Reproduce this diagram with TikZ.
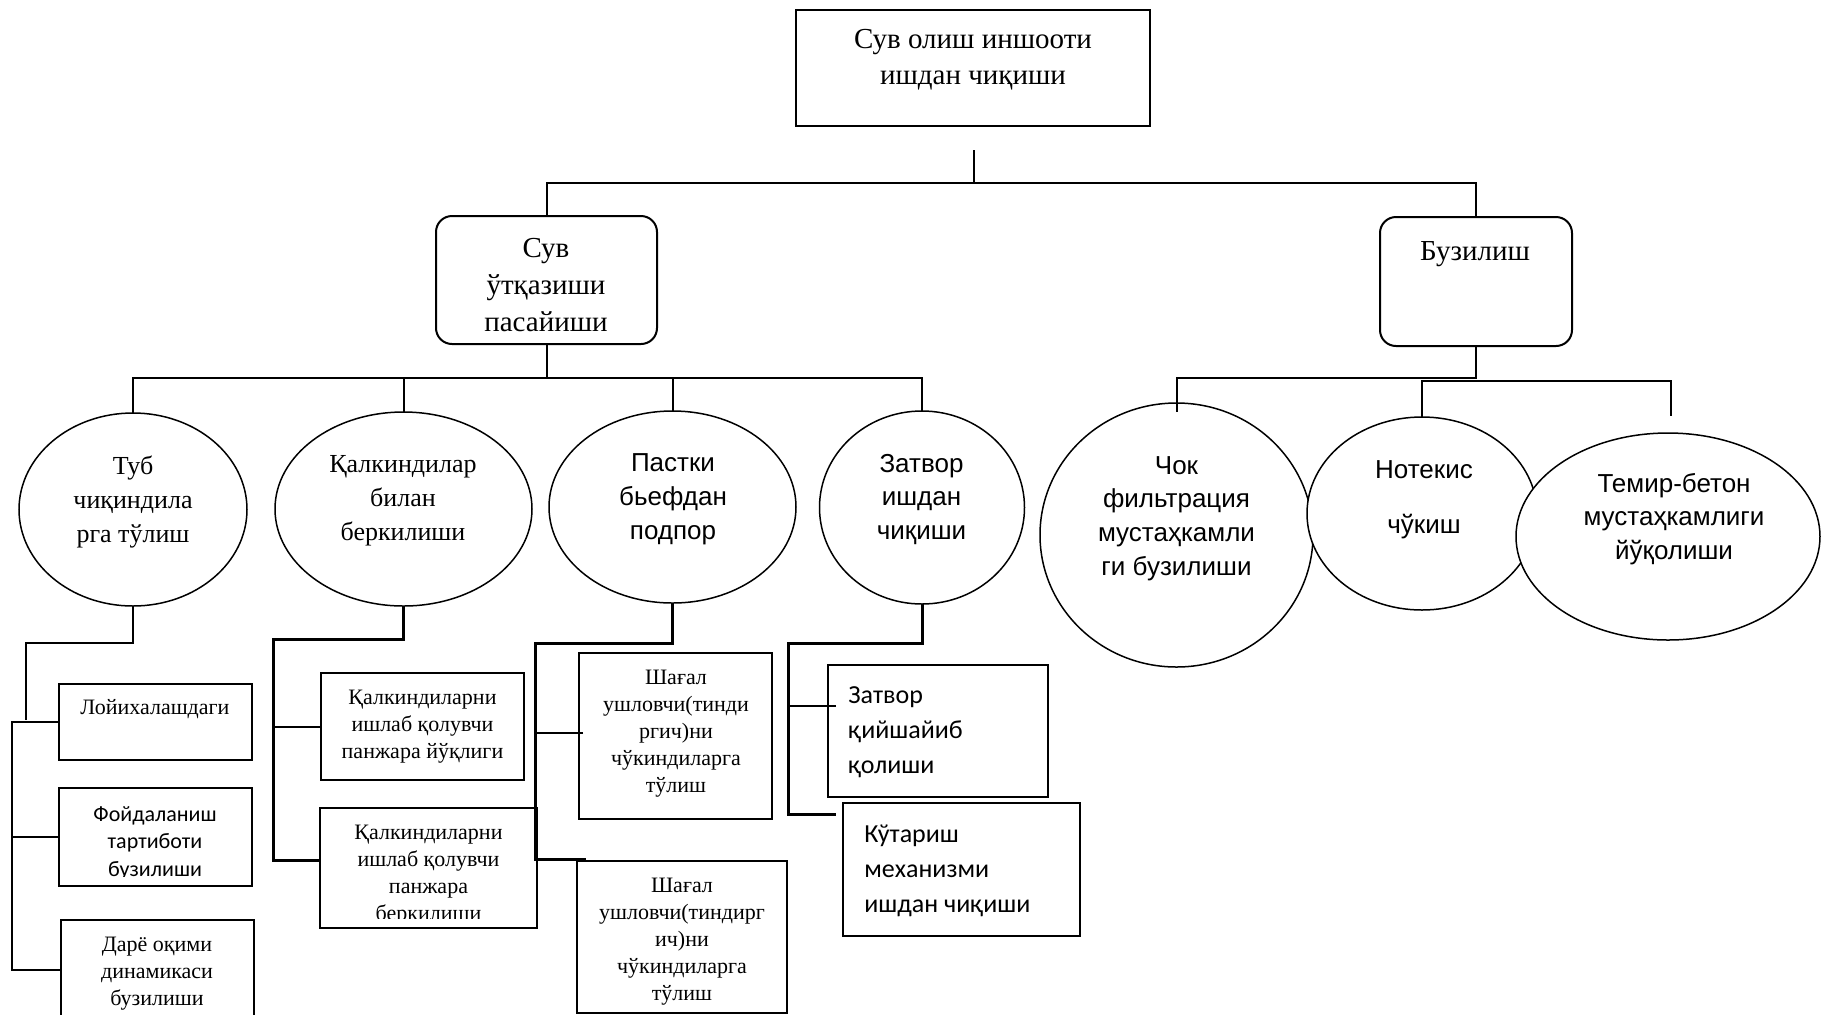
\documentclass[tikz,border=0pt]{standalone}
\usepackage{fontspec}
\setmainfont{Liberation Serif}
\newfontfamily\arialf{Liberation Sans}
\newfontfamily\calibf{Carlito}
\usetikzlibrary{shapes.geometric}
\begin{document}
\begin{tikzpicture}[x=0.5pt,y=-0.5pt,
  bx/.style={draw, line width=1pt, rectangle, inner sep=0pt, outer sep=0pt},
  ell/.style={draw, ellipse, line width=0.75pt, inner sep=0pt, outer sep=0pt},
  conn/.style={line width=1pt},
  thk/.style={line width=1.5pt},
  tbig/.style={font={\fontsize{14.5pt}{18pt}\selectfont}, align=center, inner sep=0pt},
  tell/.style={font={\fontsize{13pt}{17pt}\selectfont}, align=center, inner sep=0pt},
  tsans/.style={font={\arialf\fontsize{13pt}{16.9pt}\selectfont}, align=center, inner sep=0pt},
  tsmall/.style={font={\fontsize{11pt}{13.5pt}\selectfont}, align=center, inner sep=0pt},
  tcal/.style={font={\calibf\fontsize{11pt}{13.75pt}\selectfont}, align=center, inner sep=0pt},
  tcalb/.style={font={\calibf\fontsize{13pt}{17.5pt}\selectfont}, align=left, inner sep=0pt, anchor=west},
]
\useasboundingbox (0,0) rectangle (1822,1014);
\fill[white] (0,0) rectangle (1822,1014);
\clip (0,0) rectangle (1822,1014);

% top level
\node[bx, minimum width=177pt, minimum height=58pt] (root) at (973,68) {};
\node[tbig] (root-t) at (973,60) {Сув олиш иншооти\\ишдан чиқиши};

\node[bx, rounded corners=8pt, minimum width=110.5pt, minimum height=64pt] (sub1) at (546.5,280) {};
\node[tbig, font={\fontsize{14.5pt}{18.5pt}\selectfont}] (sub1-t) at (546,285) {Сув\\ўтқазиши\\пасайиши};

\node[bx, rounded corners=8pt, minimum width=96pt, minimum height=64.5pt] (sub2) at (1476,281.5) {};
\node[tbig] (sub2-t) at (1475,254) {Бузилиш};

% ellipses, left group
\node[ell, minimum width=114pt, minimum height=96.5pt] (tub) at (133,509.5) {};
\node[tell] (tub-t) at (133,501.5) {Туб\\чиқиндила\\рга тўлиш};

\node[ell, minimum width=128.5pt, minimum height=97pt] (qalk) at (403.5,509) {};
\node[tell] (qalk-t) at (403,501) {Қалкиндилар\\билан\\беркилиши};

\node[ell, minimum width=123.5pt, minimum height=96pt] (past) at (672.5,507) {};
\node[tsans] (past-t) at (673,499.5) {Пастки\\бьефдан\\подпор};

\node[ell, minimum width=102.5pt, minimum height=96.5pt] (zat) at (922,507.5) {};
\node[tsans] (zat-t) at (921.5,499.5) {Затвор\\ишдан\\чиқиши};

% ellipses, right group
\node[ell, minimum width=136.5pt, minimum height=132pt] (chok) at (1176.5,535) {};
\node[tsans] (chok-t) at (1176.5,518.5) {Чок\\фильтрация\\мустаҳкамли\\ги бузилиши};

\node[ell, fill=white, minimum width=115pt, minimum height=96.5pt] (note) at (1422,513.5) {};
\node[tsans] (note-t) at (1424,500) {Нотекис\\[10.5pt]чўкиш};

\node[ell, fill=white, minimum width=152pt, minimum height=103.5pt] (temir) at (1668,536.5) {};
\node[tsans] (temir-t) at (1674,519) {Темир-бетон\\мустаҳкамлиги\\йўқолиши};

% boxes under Туб
\node[bx, minimum width=96.5pt, minimum height=38pt] (loy) at (155.5,722) {};
\node[tsmall] (loy-t) at (155,709.5) {Лойихалашдаги};

\node[bx, minimum width=96.5pt, minimum height=49pt] (foyd) at (155.5,837) {};
\begin{scope}
\clip (59,788) rectangle (252,876);
\node[tcal] (foyd-t) at (155,843) {Фойдаланиш\\тартиботи\\бузилиши};
\end{scope}

\node[bx, minimum width=96.5pt, minimum height=60pt] (dare) at (157.5,980) {};
\node[tsmall] (dare-t) at (157,974) {Дарё оқими\\динамикаси\\бузилиши};

% boxes under Қалкиндилар
\node[bx, minimum width=101.5pt, minimum height=53.5pt] (k1) at (422.5,726.5) {};
\node[tsmall] (k1-t) at (422.5,727) {Қалкиндиларни\\ишлаб қолувчи\\панжара йўқлиги};

\node[bx, minimum width=108.5pt, minimum height=60pt] (k2) at (428.5,868) {};
\begin{scope}
\clip (320,808) rectangle (537,918);
\node[tsmall] (k2-t) at (428.5,875) {Қалкиндиларни\\ишлаб қолувчи\\панжара\\беркилиши};
\end{scope}

% boxes under Пастки
\node[bx, minimum width=96.5pt, minimum height=83pt] (sh1) at (675.5,736) {};
\node[tsmall] (sh1-t) at (676,734) {Шағал\\ушловчи(тинди\\ргич)ни\\чўкиндиларга\\тўлиш};

\node[bx, minimum width=105pt, minimum height=76pt] (sh2) at (682,937) {};
\node[tsmall] (sh2-t) at (682,942) {Шағал\\ушловчи(тиндирг\\ич)ни\\чўкиндиларга\\тўлиш};

% boxes under Затвор
\node[bx, minimum width=110.25pt, minimum height=66pt] (z1) at (937.75,731) {};
\node[tcalb] (z1-t) at (848,732) {Затвор\\қийшайиб\\қолиши};

\node[bx, minimum width=118.5pt, minimum height=66.5pt] (z2) at (961.5,869.5) {};
\node[tcalb] (z2-t) at (864,871) {Кўтариш\\механизми\\ишдан чиқиши};

% free ends
\coordinate (rootstem) at (974,150);
\coordinate (temirstem) at (1671,416);
\coordinate (sh2stub) at (586,859);
\coordinate (z1stub) at (836,706);
\coordinate (z2stub) at (836,814);

% connectors: top
\draw[conn] (rootstem) -- ++(0,33) -| (sub1.north);
\draw[conn] (rootstem) ++(0,33) -| (sub2.north);

\draw[conn] (sub1.south) -- ++(0,34) -| (tub.north);
\draw[conn] (sub1.south) ++(0,34) -| (qalk.north);
\draw[conn] (sub1.south) ++(0,34) -| (past.north);
\draw[conn] (sub1.south) ++(0,34) -| (zat.north);

\draw[conn] (sub2.south) -- ++(0,32) -| ([yshift=-4.5pt]chok.north);
\draw[conn] (note.north) -- ++(0,-36) -| (temirstem);

% under Туб
\draw[conn] (tub.south) -- ++(0,37) -| (26,720);
\draw[conn] (loy.west) -- ++(-47,0) |- (foyd.west);
\draw[conn] (loy.west) ++(-47,0) |- ([yshift=5pt]dare.west);

% under Қалкиндилар
\draw[thk] (qalk.south) -- ++(0,33) -- ++(-130,0) |- ([yshift=4pt]k2.west);
\draw[conn] (k1.west) -- ++(-47,0);

% under Пастки
\draw[thk] (past.south) -- ++(0,40) -- ++(-137,0) |- (sh2stub);
\draw[conn] ([xshift=2pt,yshift=1.5pt]sh1.west) -- ++(-46,0);

% under Затвор
\draw[thk] (zat.south) -- ++(0,39) -- ++(-134,0) |- (z2stub);
\draw[conn] (z1stub) -- ++(-48,0);
\end{tikzpicture}
\end{document}
